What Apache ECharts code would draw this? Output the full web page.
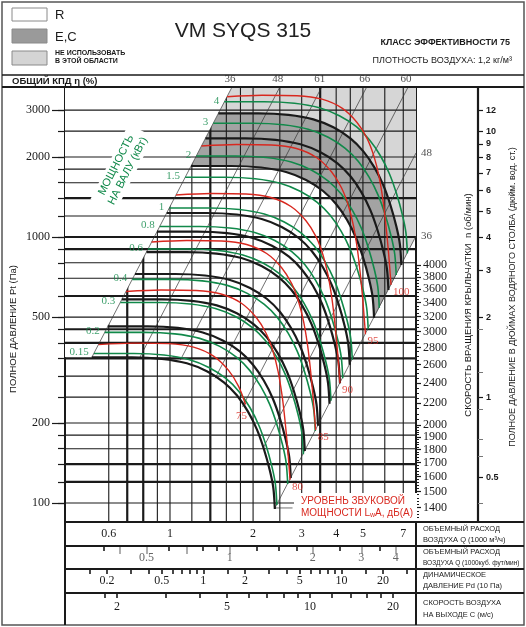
<!DOCTYPE html>
<html style="height: 100%">
  <head>
    <meta charset="UTF-8" />
    <title>VM SYQS 315</title>
    <script src="https://cdn.jsdelivr.net/npm/echarts@6/dist/echarts.min.js"></script>
  </head>
  <body style="height: 100%; margin: 0; background: #fff">
    <div id="main" style="width: 526px; height: 627px"></div>
    <script>
      const chart = echarts.init(document.getElementById('main'))

      // axis ranges: flow in 1000 m3/h, total pressure in Pa
      const qMin = 0.4165, qMax = 7.785
      const pMin = 84.84, pMax = 3664

      // grid lines
      const qGrid = [0.6, 0.7, 0.8, 0.9, 1, 1.2, 1.4, 1.6, 1.8, 2, 2.5, 3, 3.5, 4, 4.5, 5, 6, 7]
      const qThick = [0.7, 0.8, 1.4, 3.5]
      const pGrid = [100, 120, 140, 160, 180, 200, 250, 300, 350, 400, 450, 500, 600, 700, 800, 900, 1000, 1200, 1400, 1600, 1800, 2000, 2500, 3000]
      const pThick = [120, 140, 350, 400, 450, 600, 900, 1000, 1400]
      const pLabels = [100, 200, 500, 1000, 2000, 3000]

      // right scales
      const rpmRef = [4000, 785] // rpm mark and the pressure it sits level with
      const rpmLabels = [1400, 1500, 1600, 1700, 1800, 1900, 2000, 2200, 2400, 2600, 2800, 3000, 3200, 3400, 3600, 3800, 4000]
      const inchPa = 249.09
      const inchLabels = [0.5, 1, 2, 3, 4, 5, 6, 7, 8, 9, 10, 12]
      const inchMinor = [0.4, 0.6, 0.7, 0.9, 1.25, 1.8]

      // bottom scales
      const qLabels = [0.6, 1, 2, 3, 4, 5, 7]
      const cfmPer = 1.645
      const cfmLabels = [0.5, 1, 2, 3, 4]
      const cfmGray = [0.4, 0.5, 0.7, 1, 2, 3, 4]
      const cfmBlack = [0.35, 0.6, 0.8, 0.9, 1.25, 1.5, 1.75, 2.5, 3.5]
      const pdPer = 0.573
      const pdLabels = [0.2, 0.5, 1, 2, 5, 10, 20]
      const pdTicks = [0.15, 0.2, 0.3, 0.4, 0.5, 0.6, 0.7, 0.8, 0.9, 1, 1.5, 2, 3, 4, 5, 6, 7, 8, 9, 10, 15, 20, 30]
      const cPer = 3.11
      const cLabels = [2, 5, 10, 20]
      const cTicks = [1.8, 2, 3, 4, 5, 6, 7, 8, 9, 10, 12, 14, 16, 18, 20]

      // curve shapes: [flow ratio, pressure ratio] from the curve start
      const blackShape = [[1, 1], [1.3961, 1], [1.7936, 0.9871], [2.2087, 0.9494], [2.6102, 0.8859], [3.0084, 0.8054], [3.3524, 0.7197], [3.6752, 0.6263], [3.9616, 0.536], [4.2004, 0.4523], [4.4151, 0.3754], [4.5457, 0.3226], [4.603, 0.269]]
      const redShape = [[1, 1], [1.339, 1.0131], [1.7936, 1.0087], [2.2087, 0.9786], [2.6102, 0.9052], [2.9585, 0.8002], [3.2166, 0.6969], [3.4097, 0.5951], [3.5548, 0.5008], [3.6752, 0.4067], [3.7682, 0.3259], [3.8476, 0.2592], [3.9287, 0.1961]]

      // curve start points [Q, Pa]
      const blackStarts = [[1.497, 2917], [1.344, 2350], [1.192, 1849], [0.973, 1231], [0.897, 1047], [0.822, 878], [0.747, 726], [0.669, 583], [0.595, 461], [0.521, 353]]
      const greenStarts = [[1.574, 3226], [1.434, 2676], [1.245, 2016], [1.135, 1677], [0.994, 1285], [0.918, 1095], [0.832, 901], [0.73, 693], [0.661, 567], [0.58, 438], [0.53, 365]]
      const greenKw = ['4', '3', '2', '1.5', '1', '0.8', '0.6', '0.4', '0.3', '0.2', '0.15']
      const redStarts = [[1.609, 3369], [1.3, 2198], [1.051, 1439], [0.858, 958], [0.693, 624], [0.551, 394]]
      const redDb = ['100', '95', '90', '85', '80', '75']
      const redPoints = [13, 13, 13, 13, 13, 8]

      // efficiency lines
      const effLines = [
        [[0.521, 353], [1.678, 3664]],
        [[0.778, 353], [2.5, 3664]],
        [[1.091, 345], [3.545, 3664]],
        [[1.456, 294], [5.16, 3664]],
        [[1.831, 230], [7.29, 3664]],
        [[2.182, 162], [7.785, 2069]],
        [[2.4, 95.8], [7.785, 1009]]
      ]
      const effLabels = ['36', '48', '61', '66', '60', '48', '36']

      const ink = '#1a1a1a'
      const green = '#11894a'
      const red = '#d8281f'
      const serif = '"Liberation Serif", "DejaVu Serif", serif'
      const sans = '"Liberation Sans", Arial, sans-serif'
      const fmt = (v) => String(+(+v).toPrecision(3))

      const curve = (start, shape, count) =>
        shape.slice(0, count || shape.length).map(([a, b]) => [start[0] * a, start[1] * b])

      const line = (data, color, width, z, extra) =>
        Object.assign(
          {
            type: 'line', xAxisIndex: 0, yAxisIndex: 0, data, symbol: 'none', silent: true,
            z, lineStyle: { color, width }, animation: false
          },
          extra || {}
        )
      const smooth = { smooth: 0.3 }

      const poly = (points, fill, z) => ({
        type: 'custom', xAxisIndex: 0, yAxisIndex: 0, z, silent: true, animation: false,
        data: [[1, 1000]],
        renderItem: (params, api) => ({
          type: 'polygon',
          shape: { points: points.map((p) => api.coord(p)) },
          style: { fill }
        })
      })

      const labels = (data, names, color, label, z) => ({
        type: 'scatter', xAxisIndex: 0, yAxisIndex: 0, symbolSize: 0.1, silent: true, clip: false,
        animation: false, z,
        itemStyle: { color: 'rgba(0,0,0,0)' },
        data: data.map((p, i) => ({ value: p, label: { formatter: names[i] } })),
        label: Object.assign({ show: true, color, fontFamily: serif, fontSize: 11 }, label)
      })

      const series = []

      // shaded regions
      const curveA = curve(blackStarts[0], blackShape)
      const curveB = curve(blackStarts[2], blackShape)
      series.push(poly([effLines[0][1], [qMax, pMax], effLines[6][1], ...curveA.slice().reverse()], '#d6d6d6', 1))
      series.push(poly([...curveA, ...curveB.slice().reverse()], '#a3a3a3', 1))

      // vertical grid, then mask above the 36 % line, then horizontal grid
      qGrid.forEach((q) =>
        series.push(line([[q, pMin], [q, pMax]], ink, qThick.includes(q) ? 2.2 : 1.1, 2))
      )
      series.push(poly([[qMin, pMax], effLines[0][1], effLines[0][0], [qMin, effLines[0][0][1]]], '#ffffff', 3))
      pGrid.forEach((p) =>
        series.push(line([[qMin, p], [qMax, p]], ink, pThick.includes(p) ? 2.2 : 1.1, 4))
      )

      effLines.forEach((l) => series.push(line(l, '#333', 0.7, 5)))
      series.push(line([effLines[6][0], [2.78, effLines[6][0][1]]], '#333', 0.7, 5))

      greenStarts.forEach((s) =>
        series.push(line(curve(s, blackShape), green, 1.6, 6, smooth))
      )
      blackStarts.forEach((s) =>
        series.push(line(curve(s, blackShape), ink, 2.2, 7, smooth))
      )
      redStarts.forEach((s, i) =>
        series.push(line(curve(s, redShape, redPoints[i]), red, 1.4, 8, smooth))
      )

      series.push(labels(greenStarts, greenKw, green, { position: 'left', distance: 5, offset: [0, -1] }, 9))
      const redEnds = redStarts.map((s, i) => curve(s, redShape, redPoints[i]).pop())
      series.push(labels(redEnds.slice(0, 5), redDb, red, { position: 'right', distance: 2, offset: [0, 7] }, 9))
      series.push(labels(redEnds.slice(5), redDb.slice(5), red, { position: 'bottom', distance: 6, offset: [-4, 0] }, 9))
      series.push(labels(effLines.slice(0, 5).map((l) => l[1]), effLabels, '#222', { position: 'top', distance: 2, offset: [-2, 0] }, 9))
      series.push(labels(effLines.slice(5).map((l) => l[1]), effLabels.slice(5), '#222', { position: 'right', distance: 5 }, 9))

      const rpmMin = rpmRef[0] * Math.sqrt(pMin / rpmRef[1])
      const rpmMax = rpmRef[0] * Math.sqrt(pMax / rpmRef[1])
      const rpmMinor = []
      for (let n = 1320; n < 2000; n += 20) rpmMinor.push(n)
      for (let n = 2050; n < 4000; n += 50) rpmMinor.push(n)

      const noAxis = { show: false }
      const logY = (min, max, extra) =>
        Object.assign(
          {
            gridIndex: 0, type: 'log', min, max, axisLine: { show: false, onZero: false },
            axisTick: noAxis, axisLabel: noAxis, splitLine: noAxis
          },
          extra
        )

      const yAxis = [
        logY(pMin, pMax, {
          position: 'left',
          axisLine: { show: true, onZero: false, lineStyle: { color: ink, width: 2 } },
          axisTick: { show: true, customValues: pGrid, length: 7, lineStyle: { color: ink, width: 1.2 } }
        }),
        logY(pMin, pMax, {
          position: 'left',
          axisTick: { show: true, customValues: pLabels, length: 13, lineStyle: { color: ink, width: 1.2 } },
          axisLabel: { show: true, customValues: pLabels, margin: 15, fontFamily: serif, fontSize: 12, color: ink, formatter: fmt }
        }),
        logY(rpmMin, rpmMax, {
          position: 'right',
          axisLine: { show: true, onZero: false, lineStyle: { color: ink, width: 2 } },
          axisTick: { show: true, customValues: rpmLabels, length: 5, lineStyle: { color: ink, width: 1.2 } },
          axisLabel: { show: true, customValues: rpmLabels, margin: 7, fontFamily: serif, fontSize: 12, color: ink, formatter: fmt }
        }),
        logY(rpmMin, rpmMax, {
          position: 'right',
          axisTick: { show: true, customValues: rpmMinor, length: 3, lineStyle: { color: ink, width: 1 } }
        }),
        logY(pMin / inchPa, pMax / inchPa, {
          position: 'right', offset: 62,
          axisLine: { show: true, onZero: false, lineStyle: { color: ink, width: 2.2 } },
          axisTick: { show: true, customValues: inchLabels, length: 5, lineStyle: { color: ink, width: 1.2 } },
          axisLabel: { show: true, customValues: inchLabels, margin: 8, fontFamily: sans, fontWeight: 'bold', fontSize: 9, color: ink, formatter: fmt }
        }),
        logY(pMin / inchPa, pMax / inchPa, {
          position: 'right', offset: 62,
          axisTick: { show: true, customValues: inchMinor, length: 5, lineStyle: { color: '#777', width: 1 } }
        })
      ]

      const strips = [[522, 24], [546, 23], [569, 24], [593, 32]]
      strips.forEach((s, i) =>
        yAxis.push({ gridIndex: i + 1, type: 'value', show: false, min: 0, max: 1 })
      )

      const stripAxis = (gridIndex, k, power, ticks, tickLen, tickColor, labelVals, labelColor, margin) => ({
        gridIndex, type: 'log', position: 'top',
        min: k * Math.pow(qMin, power), max: k * Math.pow(qMax, power),
        axisLine: { show: false, onZero: false },
        axisTick: ticks
          ? { show: true, inside: true, customValues: ticks, length: tickLen, lineStyle: { color: tickColor, width: 1.6 } }
          : noAxis,
        axisLabel: labelVals
          ? { show: true, inside: true, margin, customValues: labelVals, fontFamily: serif, fontSize: 12, color: labelColor, formatter: fmt }
          : noAxis,
        splitLine: noAxis
      })

      const xAxis = [
        {
          gridIndex: 0, type: 'log', min: qMin, max: qMax,
          axisLine: { show: true, onZero: false, lineStyle: { color: ink, width: 2 } },
          axisTick: noAxis, axisLabel: noAxis, splitLine: noAxis
        },
        stripAxis(1, 1, 1, null, 0, ink, qLabels, ink, 6),
        stripAxis(2, 1 / cfmPer, 1, cfmGray, 8, '#9a9a9a', cfmLabels, '#666', 6),
        stripAxis(2, 1 / cfmPer, 1, cfmBlack, 5, ink, null, ink, 0),
        stripAxis(3, pdPer, 2, pdTicks, 5, ink, pdLabels, ink, 6),
        stripAxis(4, cPer, 1, cTicks, 5, ink, cLabels, ink, 8)
      ]

      const grid = [{ left: 65, top: 87, width: 351, height: 435 }]
        .concat(strips.map(([top, height]) => ({ left: 65, top, width: 351, height })))
        .map((g) => Object.assign(g, { containLabel: false, outerBoundsMode: 'none', show: false }))

      const txt = (x, y, text, o) => ({
        type: 'text', x, y, z: 100, silent: true,
        style: Object.assign(
          { text, fill: ink, fontFamily: sans, fontSize: 9, align: 'left', verticalAlign: 'middle', textAlign: 'left', textVerticalAlign: 'middle' },
          o
        )
      })
      const seg = (x1, y1, x2, y2, w, c) => ({
        type: 'line', z: 100, silent: true, shape: { x1, y1, x2, y2 },
        style: { stroke: c || ink, lineWidth: w || 1.5 }
      })
      const box = (x, y, w, h, fill) => ({
        type: 'rect', z: 100, silent: true, shape: { x, y, width: w, height: h },
        style: { fill, stroke: '#8a8a8a', lineWidth: 1 }
      })
      const vtxt = (x, y, text, size) => ({
        type: 'text', x, y, z: 100, silent: true, rotation: Math.PI / 2,
        style: { text, fill: ink, fontFamily: sans, fontSize: size, align: 'center', verticalAlign: 'middle', textAlign: 'center', textVerticalAlign: 'middle' }
      })

      const graphic = [
        { type: 'rect', z: 100, silent: true, shape: { x: 2, y: 2, width: 522, height: 623 }, style: { fill: null, stroke: '#555', lineWidth: 1.5 } },
        seg(2, 75, 524, 75, 1.5),
        seg(2, 87, 524, 87, 2),
        seg(65, 522, 65, 625, 2),
        seg(416, 522, 416, 625, 2),
        seg(64, 522, 524, 522, 2),
        seg(65, 546, 524, 546, 2),
        seg(65, 569, 524, 569, 2),
        seg(65, 593, 524, 593, 2),

        box(12, 8, 35, 13, '#ffffff'),
        box(12, 29, 35, 14, '#9a9a9a'),
        box(12, 51, 35, 14, '#d4d4d4'),
        txt(55, 15, 'R', { fontSize: 13 }),
        txt(55, 37, 'E,C', { fontSize: 13 }),
        txt(55, 53, 'НЕ ИСПОЛЬЗОВАТЬ', { fontSize: 7, fontWeight: 'bold' }),
        txt(55, 61.5, 'В ЭТОЙ ОБЛАСТИ', { fontSize: 7, fontWeight: 'bold' }),

        txt(243, 31, 'VM SYQS 315', { fontSize: 21, align: 'center', textAlign: 'center', fill: '#222' }),
        txt(510, 43, 'КЛАСС ЭФФЕКТИВНОСТИ 75', { fontSize: 9, fontWeight: 'bold', align: 'right', textAlign: 'right' }),
        txt(512, 61, 'ПЛОТНОСТЬ ВОЗДУХА: 1,2 кг/м³', { fontSize: 9, align: 'right', textAlign: 'right' }),
        txt(12, 81, 'ОБЩИЙ КПД η (%)', { fontSize: 9.5, fontWeight: 'bold' }),

        vtxt(13, 329, 'ПОЛНОЕ ДАВЛЕНИЕ Pt (Па)', 9.5),
        vtxt(468, 305, 'СКОРОСТЬ ВРАЩЕНИЯ КРЫЛЬЧАТКИ  n (об/мин)', 9.5),
        vtxt(513, 297, 'ПОЛНОЕ ДАВЛЕНИЕ В ДЮЙМАХ ВОДЯНОГО СТОЛБА (дюйм. вод. ст.)', 9),

        txt(423, 529, 'ОБЪЕМНЫЙ РАСХОД', { fontSize: 7.5 }),
        txt(423, 540, 'ВОЗДУХА Q (1000 м³/ч)', { fontSize: 7.5 }),
        txt(423, 552, 'ОБЪЕМНЫЙ РАСХОД', { fontSize: 7.5 }),
        txt(423, 563, 'ВОЗДУХА Q (1000куб. фут/мин)', { fontSize: 6.5 }),
        txt(423, 575, 'ДИНАМИЧЕСКОЕ', { fontSize: 7.5 }),
        txt(423, 586, 'ДАВЛЕНИЕ Pd (10 Па)', { fontSize: 7.5 }),
        txt(423, 603, 'СКОРОСТЬ ВОЗДУХА', { fontSize: 7.5 }),
        txt(423, 615, 'НА ВЫХОДЕ С (м/с)', { fontSize: 7.5 }),

        {
          type: 'text', x: 122, y: 168, z: 100, silent: true, rotation: 1.1,
          style: {
            text: 'МОЩНОСТЬ\nНА ВАЛУ (кВт)', fill: green, fontFamily: sans, fontSize: 11,
            align: 'center', verticalAlign: 'middle', textAlign: 'center', textVerticalAlign: 'middle',
            lineHeight: 13, backgroundColor: '#fff', padding: [1, 5]
          }
        },
        {
          type: 'text', x: 294, y: 493, z: 100, silent: true,
          style: {
            text: 'УРОВЕНЬ ЗВУКОВОЙ\nМОЩНОСТИ L{s|w}A, дБ(A)', fill: red, fontFamily: sans, fontSize: 10,
            align: 'left', verticalAlign: 'top', textAlign: 'left', textVerticalAlign: 'top',
            lineHeight: 12, backgroundColor: '#fff', padding: [2, 4, 2, 7],
            rich: { s: { fill: red, fontFamily: sans, fontSize: 7, verticalAlign: 'bottom', lineHeight: 12, padding: [5, 0, 0, 0] } }
          }
        }
      ]

      chart.setOption({
        animation: false,
        textStyle: { fontFamily: sans },
        grid,
        xAxis,
        yAxis,
        series,
        graphic: { elements: graphic }
      })
    </script>
  </body>
</html>
